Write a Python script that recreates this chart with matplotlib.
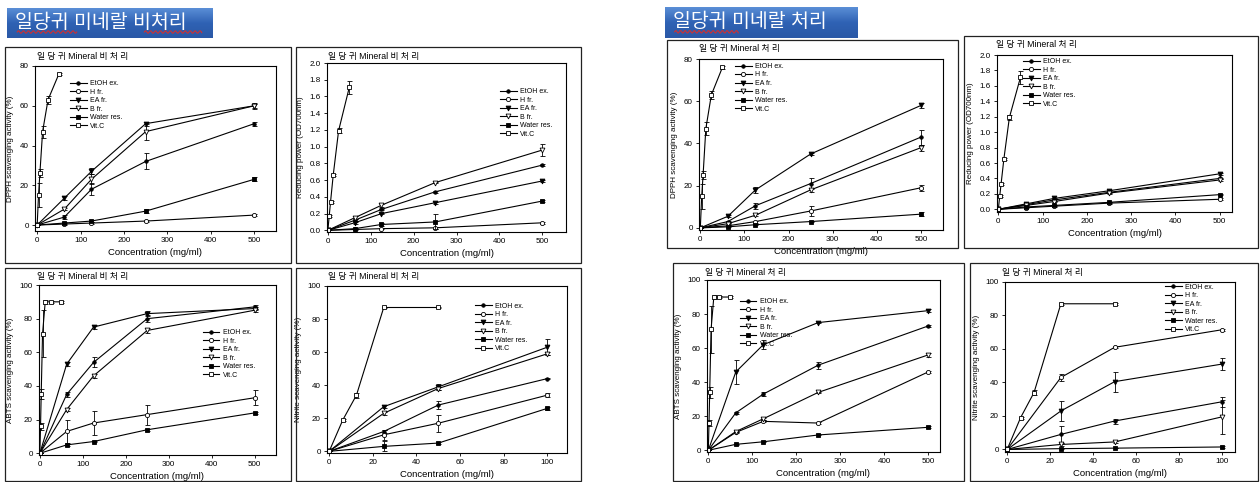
import numpy as np
import matplotlib.pyplot as plt
from matplotlib.patches import Rectangle
from matplotlib.ticker import FormatStrFormatter

plt.rcParams['font.family'] = ['Liberation Sans', 'Noto Sans CJK KR']

# 농도 (mg/ml)
conc = [0, 62.5, 125, 250, 500]
conc_nit = [0, 25, 50, 100]
vitc_conc = [0, 3.125, 6.25, 12.5, 25, 50]
vitc_conc_abts = [0, 1.5625, 3.125, 6.25, 12.5, 25, 50]
vitc_conc_nit = [0, 6.25, 12.5, 25, 50]

names = ['EtOH ex.', 'H fr.', 'EA fr.', 'B fr.', 'Water res.', 'Vit.C']

# 비처리 - DPPH  (EtOH, H, EA, B, Water)
dpph_raw = [[0, 4, 18, 32, 51], [0, 0.5, 1, 2, 5], [0, 13.5, 27, 51, 60],
            [0, 8, 23, 47, 60], [0, 1, 2, 7, 23]]
dpph_raw_err = [[0, 0.8, 3, 4, 1], [0, 0.3, 0.3, 0.5, 0.5], [0, 1, 1.5, 1, 1],
                [0, 0.5, 2.5, 4, 1.5], [0, 0.3, 0.5, 1, 1]]
dpph_raw_vitc = [0, 15, 26, 47, 63, 76]
dpph_raw_vitc_err = [0, 6, 2, 3, 2, 0.5]

# 비처리 - reducing power
red_raw = [[0, 0.12, 0.25, 0.46, 0.78], [0, 0.01, 0.02, 0.03, 0.09], [0, 0.09, 0.20, 0.33, 0.59],
           [0, 0.15, 0.30, 0.57, 0.96], [0, 0.02, 0.07, 0.10, 0.35]]
red_raw_err = [[0, 0.01, 0.01, 0.01, 0.01], [0, 0.005, 0.005, 0.01, 0.01], [0, 0.01, 0.01, 0.01, 0.01],
               [0, 0.02, 0.02, 0.01, 0.07], [0, 0.01, 0.02, 0.09, 0.01]]
red_raw_vitc = [0, 0.17, 0.34, 0.66, 1.19, 1.71]
red_raw_vitc_err = [0, 0.01, 0.01, 0.01, 0.03, 0.08]

# 비처리 - ABTS
abts_raw = [[0, 35, 54, 80, 87], [0, 13, 18, 23, 33], [0, 53, 75, 83, 86],
            [0, 26, 46, 73, 85], [0, 5, 7, 14, 24]]
abts_raw_err = [[0, 1.5, 3, 2, 1], [0, 7, 7, 6, 4.5], [0, 1, 1, 1.5, 1],
                [0, 1, 1, 1.5, 1], [0, 0.5, 0.5, 0.5, 0.5]]
abts_raw_vitc = [0, 16, 35, 71, 90, 90, 90]
abts_raw_vitc_err = [0, 2, 3, 14, 1, 0.5, 0.5]

# 비처리 - nitrite
nit_raw = [[0, 12, 28, 44], [0, 10, 17, 34], [0, 27, 39, 63],
           [0, 23, 38, 59], [0, 3, 5, 26]]
nit_raw_err = [[0, 1, 2.5, 0.5], [0, 3, 5, 1], [0, 1, 2, 5],
               [0, 1, 1, 1], [0, 3, 0.5, 1]]
nit_raw_vitc = [0, 19, 34, 87, 87]
nit_raw_vitc_err = [0, 0.5, 1.5, 0.5, 0.5]

# 처리 - DPPH
dpph_trt = [[0, 3, 10.5, 21, 43], [0, 1, 3, 8, 19], [0, 5.5, 18, 35, 58],
            [0, 2, 6, 18, 38], [0, 0.5, 1.5, 3, 6.5]]
dpph_trt_err = [[0, 0.5, 1.5, 2.5, 3.5], [0, 0.3, 0.5, 2.5, 1.5], [0, 0.5, 1.5, 0.5, 1],
                [0, 0.3, 0.5, 1, 1.5], [0, 0.2, 0.3, 0.3, 1]]
dpph_trt_vitc = [0, 15, 25, 47, 63, 76]
dpph_trt_vitc_err = [0, 6, 2, 3, 2, 0.5]

# 처리 - reducing power
red_trt = [[0, 0.06, 0.12, 0.22, 0.40], [0, 0.02, 0.04, 0.08, 0.13], [0, 0.07, 0.14, 0.24, 0.46],
           [0, 0.05, 0.10, 0.21, 0.38], [0, 0.03, 0.05, 0.09, 0.19]]
red_trt_err = [[0, 0.005, 0.01, 0.01, 0.01]] * 5
red_trt_vitc = [0, 0.17, 0.33, 0.65, 1.19, 1.71]
red_trt_vitc_err = [0, 0.01, 0.01, 0.01, 0.03, 0.08]

# 처리 - ABTS
abts_trt = [[0, 22, 33, 50, 73], [0, 10.5, 17, 16, 46], [0, 46, 62, 75, 82],
            [0, 11, 18.5, 34, 56], [0, 3.5, 5, 9, 13.5]]
abts_trt_err = [[0, 0.5, 1, 2, 0.5], [0, 0.5, 0.5, 0.5, 0.5], [0, 7, 2.5, 0.5, 1],
                [0, 0.5, 0.5, 0.5, 1], [0, 0.3, 0.3, 0.3, 0.5]]
abts_trt_vitc = [0, 16, 34, 71, 90, 90, 90]
abts_trt_vitc_err = [0, 2, 3, 14, 1, 0.5, 0.5]

# 처리 - nitrite
nit_trt = [[0, 9, 17, 28.5], [0, 43, 61, 71.5], [0, 23, 40.5, 51],
           [0, 3, 4.5, 19.5], [0, 0.5, 0.8, 1.5]]
nit_trt_err = [[0, 5, 1.5, 3], [0, 2, 0.5, 0.5], [0, 6, 6, 3.5],
               [0, 1, 0.5, 10], [0, 0.2, 0.2, 0.5]]
nit_trt_vitc = [0, 19, 34, 87, 87]
nit_trt_vitc_err = [0, 0.5, 1.5, 0.5, 0.5]

markers = [dict(marker='o', ms=2.5, mfc='black'),
           dict(marker='o', ms=3, mfc='white'),
           dict(marker='v', ms=3.5, mfc='black'),
           dict(marker='v', ms=3.5, mfc='white'),
           dict(marker='s', ms=3, mfc='black'),
           dict(marker='s', ms=3.5, mfc='white')]

W, H = 1260, 482
fig = plt.figure(figsize=(W / 100, H / 100), dpi=100)


def px_axes(l, t, r, b):
    return fig.add_axes([l / W, 1 - b / H, (r - l) / W, (b - t) / H])


def frame(l, t, r, b):
    fig.patches.append(Rectangle((l / W, 1 - b / H), (r - l) / W, (b - t) / H,
                                 transform=fig.transFigure, fill=False, lw=0.9, ec='#222222'))


def header(l, t, r, b, text, waves):
    ax = px_axes(l, t, r, b)
    grad = np.linspace(0, 1, 50).reshape(-1, 1)
    cm = plt.matplotlib.colors.LinearSegmentedColormap.from_list('hb', ['#5a8ed6', '#2f62b4', '#2a58a6'])
    ax.imshow(grad, aspect='auto', cmap=cm, extent=[0, 1, 0, 1], origin='upper')
    ax.text(0.04, 0.52, text, color='white', fontsize=14, va='center', ha='left')
    # 맞춤법 표시 밑줄
    for x0, x1 in waves:
        xx = np.linspace(x0, x1, 120)
        ax.plot(xx, 0.2 + 0.04 * np.sin((xx - x0) * 260), color='#d03030', lw=0.8)
    ax.set_xlim(0, 1)
    ax.set_ylim(0, 1)
    ax.axis('off')


def panel(box, fr, title, xs, ys, errs, vx, vy, verr, xlim, ylim, xticks, yticks,
          ylabel, leg_xy, yfmt=None):
    frame(*fr)
    fig.text((fr[0] + 32) / W, 1 - (fr[1] + 9) / H, title, fontsize=6.3, va='center')
    ax = px_axes(*box)
    data = list(ys) + [vy]
    errs = list(errs) + [verr]
    xvals = [xs] * len(ys) + [vx]
    for i, (x, y, e) in enumerate(zip(xvals, data, errs)):
        ax.errorbar(x, y, yerr=e, fmt='none', ecolor='black', elinewidth=0.6,
                    capsize=1.8, capthick=0.6)
        ax.plot(x, y, color='black', lw=0.8, mec='black', mew=0.6,
                label=names[i], **markers[i])
    ax.set_xlim(*xlim)
    ax.set_ylim(*ylim)
    ax.set_xticks(xticks)
    ax.set_yticks(yticks)
    if yfmt:
        ax.yaxis.set_major_formatter(FormatStrFormatter(yfmt))
    ax.tick_params(direction='out', length=2.5, width=0.6, labelsize=5.8, pad=2)
    for s in ax.spines.values():
        s.set_linewidth(0.8)
    ax.set_xlabel('Concentration (mg/ml)', fontsize=6.8, labelpad=3)
    ax.set_ylabel(ylabel, fontsize=5.8, labelpad=4)
    ax.legend(loc='upper left', bbox_to_anchor=leg_xy, frameon=False, fontsize=5,
              handlelength=2.4, handletextpad=0.5, labelspacing=0.22, borderpad=0,
              borderaxespad=0)
    return ax


t_raw = '일 당 귀 Mineral 비 처 리'
t_trt = '일 당 귀 Mineral 처 리'
big_x = [0, 100, 200, 300, 400, 500]
nit_x = [0, 20, 40, 60, 80, 100]
pct_y = [0, 20, 40, 60, 80, 100]
dpph_y = [0, 20, 40, 60, 80]
red_y = np.arange(0, 2.01, 0.2)

header(7, 8, 212, 38, '일당귀 미네랄 비처리', [(0.05, 0.34), (0.67, 0.95)])
header(665, 7, 858, 38, '일당귀 미네랄 처리', [(0.05, 0.38)])

panel((35, 66, 276, 231), (5, 47, 291, 263), t_raw, conc, dpph_raw, dpph_raw_err,
      vitc_conc, dpph_raw_vitc, dpph_raw_vitc_err, (-5, 550), (-3, 80), big_x, dpph_y,
      'DPPH scavenging activity (%)', (0.145, 0.915))
panel((327, 63, 566, 232), (296, 47, 581, 263), t_raw, conc, red_raw, red_raw_err,
      vitc_conc, red_raw_vitc, red_raw_vitc_err, (-2, 555), (-0.02, 2.0), big_x, red_y,
      'Reducing power (OD700nm)', (0.724, 0.852), yfmt='%.1f')
panel((39, 285, 276, 455), (5, 268, 291, 481), t_raw, conc, abts_raw, abts_raw_err,
      vitc_conc_abts, abts_raw_vitc, abts_raw_vitc_err, (-2, 550), (-1, 100), big_x, pct_y,
      'ABTS scavenging activity (%)', (0.69, 0.74))
panel((327, 286, 567, 453), (296, 268, 581, 481), t_raw, conc_nit, nit_raw, nit_raw_err,
      vitc_conc_nit, nit_raw_vitc, nit_raw_vitc_err, (-1, 109), (-1, 100), nit_x, pct_y,
      'Nitrite scavenging activity (%)', (0.617, 0.9))

panel((699, 59, 943, 230), (667, 40, 958, 248), t_trt, conc, dpph_trt, dpph_trt_err,
      vitc_conc, dpph_trt_vitc, dpph_trt_vitc_err, (-3, 550), (-1, 80), big_x, dpph_y,
      'DPPH scavenging activity (%)', (0.148, 0.977))
panel((997, 55, 1232, 212), (964, 36, 1258, 248), t_trt, conc, red_trt, red_trt_err,
      vitc_conc, red_trt_vitc, red_trt_vitc_err, (-3, 528), (-0.035, 2.0), big_x, red_y,
      'Reducing power (OD700nm)', (0.11, 0.98), yfmt='%.1f')
panel((707, 280, 940, 452), (673, 263, 964, 481), t_trt, conc, abts_trt, abts_trt_err,
      vitc_conc_abts, abts_trt_vitc, abts_trt_vitc_err, (-3, 527), (-1, 100), big_x, pct_y,
      'ABTS scavenging activity (%)', (0.14, 0.895))
panel((1005, 282, 1235, 452), (970, 263, 1258, 481), t_trt, conc_nit, nit_trt, nit_trt_err,
      vitc_conc_nit, nit_trt_vitc, nit_trt_vitc_err, (-1, 106), (-1.5, 100), nit_x, pct_y,
      'Nitrite scavenging activity (%)', (0.696, 0.99))

fig.savefig('out.png', dpi=100, facecolor='white')
